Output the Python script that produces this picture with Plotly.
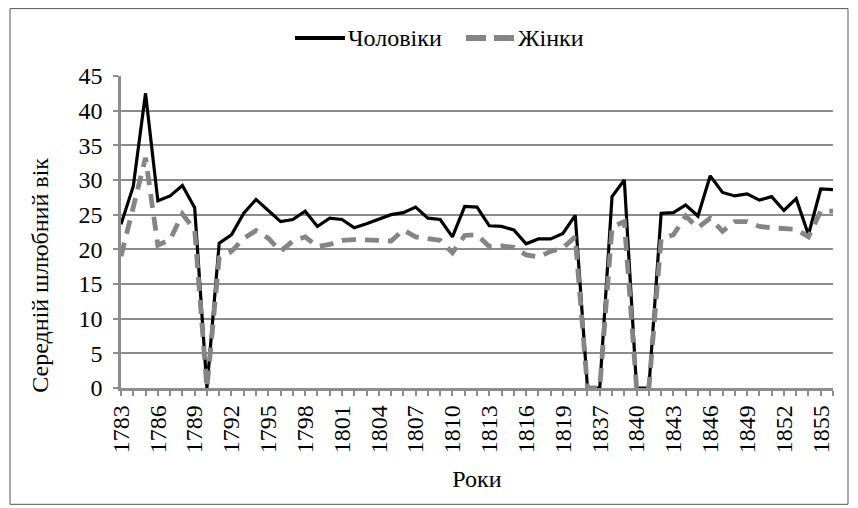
import plotly.graph_objects as go

years = [str(y) for y in range(1783, 1821)] + ["1836"] + [str(y) for y in range(1837, 1857)]

men = [23.6, 29.1, 42.5, 27.0, 27.7, 29.2, 26.0, 0.0, 20.9, 22.1,
       25.2, 27.2, 25.6, 24.0, 24.3, 25.5, 23.3, 24.5, 24.3, 23.1,
       23.7, 24.3, 25.0, 25.3, 26.1, 24.5, 24.3, 21.8, 26.2, 26.1,
       23.4, 23.3, 22.8, 20.8, 21.5, 21.5, 22.3, 24.9, 0.0, 0.0,
       27.6, 30.0, 0.0, 0.0, 25.2, 25.3, 26.4, 24.8, 30.6, 28.2,
       27.7, 28.0, 27.1, 27.6, 25.6, 27.3, 22.1, 28.7, 28.6]

women = [19.0, 26.0, 33.2, 20.6, 21.4, 25.1, 22.8, 0.0, 18.8, 19.7,
         21.6, 22.7, 21.6, 19.7, 21.2, 21.8, 20.4, 20.7, 21.3, 21.4,
         21.4, 21.3, 21.2, 22.8, 21.8, 21.5, 21.3, 19.5, 22.0, 22.1,
         20.4, 20.5, 20.3, 19.2, 18.9, 19.7, 20.2, 21.8, 0.0, 0.0,
         23.2, 24.0, 0.0, 0.0, 21.5, 22.1, 24.8, 23.1, 24.5, 22.6,
         24.0, 24.0, 23.3, 23.1, 23.0, 22.9, 21.8, 25.5, 25.5]

series_names = ["Чоловіки", "Жінки"]
x_title = "Роки"
y_title = "Середній шлюбний вік"
tick_text = [y if i % 3 == 0 else "" for i, y in enumerate(years)]

FONT = "Liberation Serif, Times New Roman, serif"
GRID = "#8c8c8c"
MEN_COLOR = "black"
WOMEN_COLOR = "#858585"
WOMEN_DASH = "14px,9px"

fig = go.Figure()
fig.add_trace(go.Scatter(x=years, y=men, name=series_names[0], mode="lines",
                         line=dict(color=MEN_COLOR, width=3.2)))
fig.add_trace(go.Scatter(x=years, y=women, name=series_names[1], mode="lines",
                         line=dict(color=WOMEN_COLOR, width=4.8, dash=WOMEN_DASH)))

# page body has an 8px margin; figure coordinates are window coordinates minus 8
OFF = 8
W, H = 858 - OFF, 508 - OFF
L, R, T, B = 121 - OFF, 833 - OFF, 76 - OFF, 388.5 - OFF
pw, ph = R - L, B - T

def px_x(p):
    return (p - OFF - L) / pw

def px_y(p):
    return (B - (p - OFF)) / ph

LEG_Y = px_y(38)
shapes = [
    dict(type="rect", xref="paper", yref="paper",
         x0=px_x(10), x1=px_x(848), y0=px_y(505), y1=px_y(8.5),
         line=dict(color="#555555", width=1), layer="below"),
    dict(type="line", xref="paper", yref="paper",
         x0=px_x(295), x1=px_x(345), y0=LEG_Y, y1=LEG_Y,
         line=dict(color=MEN_COLOR, width=4)),
    dict(type="line", xref="paper", yref="paper",
         x0=px_x(466), x1=px_x(514), y0=LEG_Y, y1=LEG_Y,
         line=dict(color=WOMEN_COLOR, width=6, dash="20px,8px")),
]
annotations = [
    dict(text=series_names[0], xref="paper", yref="paper", x=px_x(346), y=LEG_Y,
         xanchor="left", yanchor="middle", showarrow=False,
         font=dict(family=FONT, size=24, color="black")),
    dict(text=series_names[1], xref="paper", yref="paper", x=px_x(516), y=LEG_Y,
         xanchor="left", yanchor="middle", showarrow=False,
         font=dict(family=FONT, size=24, color="black")),
    dict(text=y_title, xref="paper", yref="paper", x=px_x(40), y=px_y(276),
         xanchor="center", yanchor="middle", textangle=-90, showarrow=False,
         font=dict(family=FONT, size=24, color="black")),
]

fig.update_layout(
    template="none",
    width=W, height=H,
    margin=dict(l=L, r=W - R, t=T, b=H - B, pad=0),
    paper_bgcolor="white", plot_bgcolor="white",
    font=dict(family=FONT, size=24, color="black"),
    showlegend=False,
    xaxis=dict(
        type="category", range=[0, len(years) - 1],
        tickmode="array", tickvals=years, ticktext=tick_text,
        tickangle=-90, ticks="outside", ticklen=5, tickwidth=2, tickcolor=GRID,
        showline=True, linecolor=GRID, linewidth=2.5,
        showgrid=False, zeroline=False, automargin=False,
        tickfont=dict(family=FONT, size=24, color="black"),
        title=dict(text=x_title, standoff=18, font=dict(family=FONT, size=24, color="black")),
    ),
    yaxis=dict(
        range=[0, 45], dtick=5, tick0=0,
        ticks="outside", ticklen=5, tickwidth=2, tickcolor=GRID,
        showline=True, linecolor=GRID, linewidth=2.5,
        showgrid=True, gridcolor=GRID, gridwidth=1.5,
        zeroline=False, automargin=False,
        tickfont=dict(family=FONT, size=24, color="black"),
        ticklabelstandoff=6,
    ),
    shapes=shapes,
    annotations=annotations,
)

fig.write_html("out.html")
